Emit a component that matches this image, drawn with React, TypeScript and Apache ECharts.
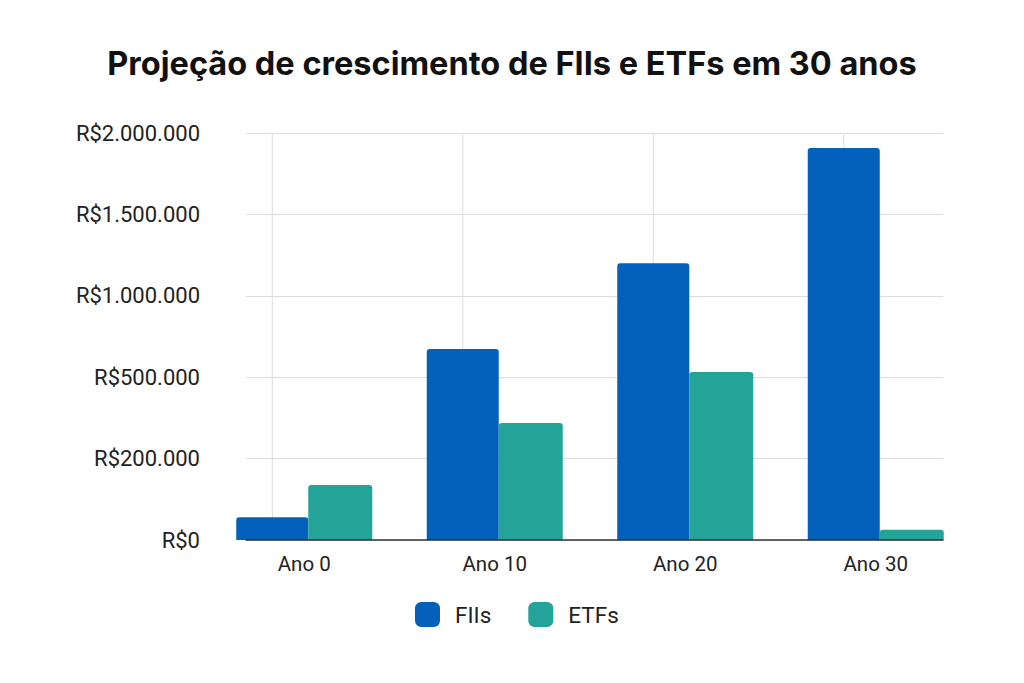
import React, { useEffect, useRef } from "react";
import * as echarts from "echarts";

const categories = ["Ano 0", "Ano 10", "Ano 20", "Ano 30"];
const fiisValues = [56000, 673000, 1200000, 1908000];
const etfsValues = [135000, 331000, 532000, 25000];
const tickValues = [0, 200000, 500000, 1000000, 1500000, 2000000];

const FII_COLOR = "#0360BB";
const ETF_COLOR = "#24A499";
const FII_W = 72;
const ETF_W = 64;
const TITLE_FONT = "Inter, Roboto, 'Noto Sans', sans-serif";
const FONT = "Roboto, 'Noto Sans', sans-serif";

function formatBRL(v: number): string {
  const s = String(Math.round(v));
  return "R$" + s.replace(/\B(?=(\d{3})+(?!\d))/g, ".");
}
const tickLabels = tickValues.map(formatBRL);

// The reference axis places its (uneven) tick values at even spacing:
// map a money value onto tick-index units, piecewise between ticks.
function toAxis(v: number): number {
  for (let i = 0; i < tickValues.length - 1; i++) {
    const a = tickValues[i];
    const b = tickValues[i + 1];
    if (v <= b) return i + (v - a) / (b - a);
  }
  return tickValues.length - 1;
}

export default function App() {
  const ref = useRef<HTMLDivElement>(null);
  useEffect(() => {
    if (!ref.current) return;
    const chart = echarts.init(ref.current, undefined, { renderer: "svg" });
    const maxIdx = tickValues.length - 1;
    chart.setOption({
      animation: false,
      backgroundColor: "#ffffff",
      textStyle: { fontFamily: FONT },
      title: {
        text: "Projeção de crescimento de FIIs e ETFs em 30 anos",
        left: "center",
        top: 42,
        textStyle: { fontSize: 32.5, fontWeight: "bold", color: "#111", fontFamily: TITLE_FONT },
      },
      legend: {
        data: ["FIIs", "ETFs"],
        top: 597,
        left: 410,
        icon: "roundRect",
        itemWidth: 25,
        itemHeight: 25,
        itemGap: 37,
        textStyle: { fontSize: 22.5, color: "#222", fontFamily: FONT, padding: [0, 0, 0, 10] },
      },
      grid: [
        { left: 246, right: 81, top: 133, bottom: 143 },
        { left: 209, right: 53, top: 133, bottom: 143 },
      ],
      xAxis: [
        {
          type: "category",
          gridIndex: 0,
          data: categories,
          axisLabel: { show: false },
          axisTick: { show: false },
          axisLine: { show: true, lineStyle: { color: "#333", width: 1.5 } },
          splitLine: { show: false },
          z: 5,
        },
        {
          type: "category",
          gridIndex: 1,
          data: categories,
          axisLine: { show: false },
          axisTick: { show: false },
          splitLine: { show: false },
          axisLabel: { margin: 13, fontSize: 20.5, color: "#222", fontFamily: FONT },
        },
      ],
      yAxis: [
        {
          type: "value",
          gridIndex: 0,
          min: 0,
          max: maxIdx,
          interval: 1,
          axisLine: { show: false },
          axisTick: { show: false },
          axisLabel: {
            margin: 46,
            fontSize: 22,
            color: "#222",
            fontFamily: FONT,
            formatter: (v: number) => tickLabels[Math.round(v)] ?? "",
          },
          splitLine: { show: true, lineStyle: { color: "#dcdcdc", width: 1 } },
        },
        {
          type: "value",
          gridIndex: 1,
          min: 0,
          max: maxIdx,
          interval: 1,
          show: false,
          splitLine: { show: false },
        },
      ],
      series: [
        {
          type: "custom",
          xAxisIndex: 1,
          yAxisIndex: 1,
          z: 1,
          silent: true,
          data: categories.map((_, i) => [i]),
          renderItem: (params: any, api: any) => {
            const c = api.coord([api.value(0), 0])[0];
            const x = c - ETF_W / 2;
            const cs = params.coordSys;
            return {
              type: "line",
              shape: { x1: x, y1: cs.y, x2: x, y2: cs.y + cs.height },
              style: { stroke: "#dcdcdc", lineWidth: 1 },
            };
          },
        },
        {
          name: "FIIs",
          type: "bar",
          xAxisIndex: 1,
          yAxisIndex: 1,
          z: 3,
          barWidth: FII_W,
          barGap: "0%",
          data: fiisValues.map(toAxis),
          itemStyle: { color: FII_COLOR, borderRadius: [3, 3, 0, 0] },
        },
        {
          name: "ETFs",
          type: "bar",
          xAxisIndex: 1,
          yAxisIndex: 1,
          z: 3,
          barWidth: ETF_W,
          barGap: "0%",
          data: etfsValues.map(toAxis),
          itemStyle: { color: ETF_COLOR, borderRadius: [3, 3, 0, 0] },
        },
      ],
    });
    return () => chart.dispose();
  }, []);
  return (
    <div
      ref={ref}
      style={{ position: "absolute", left: 0, top: 0, width: 1024, height: 683 }}
    />
  );
}
